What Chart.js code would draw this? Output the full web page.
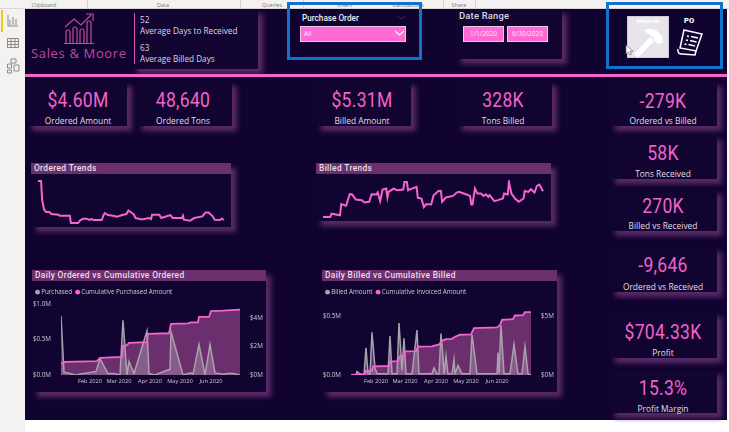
<!DOCTYPE html>
<html><head><meta charset="utf-8">
<script src="https://cdn.jsdelivr.net/npm/chart.js@4"></script>
<style>
html,body{margin:0;padding:0;width:729px;height:432px;overflow:hidden;background:#fff;font-family:"Open Sans",sans-serif}
body{filter:blur(.35px)}
div,canvas,svg{position:absolute;box-sizing:border-box}
#dash{left:25px;top:9px;width:702px;height:411px;background:#100330}
.ribbon{left:0;top:0;width:729px;height:9px;background:#f3f2f1;border-bottom:1px solid #d8d6d4}
.rl{top:1px;font-size:5.5px;color:#777;transform:translateX(-50%);white-space:nowrap}
.sep{top:0;height:8px;width:1px;background:#d5d3d1}
.side{left:0;top:9px;width:25px;height:423px;background:#f3f2f1}
.panel{background:#110431;box-shadow:5px 5px 5px #5a2a68}
.val{color:#f263c9;font-family:Roboto,sans-serif;font-size:19.5px;letter-spacing:.3px;text-align:center;white-space:nowrap;transform:translateX(-50%) scaleX(.9);line-height:20px}
.lab{color:#e4dde6;font-size:8.4px;margin-top:1px;text-align:center;white-space:nowrap;transform:translateX(-50%);line-height:11px}
.ttl{background:#6a2f6c;color:#e9dfe9;font-family:Roboto,sans-serif;font-weight:500;font-size:8.4px;letter-spacing:.35px;padding-left:3px;line-height:11px;white-space:nowrap}
.txt{color:#ddd6e0;white-space:nowrap}
.pinkbox{background:#ff6ad5;border:1px solid #e9c7e4;color:#fbe9f7;font-size:6.5px;line-height:14px;text-align:center;white-space:nowrap}
.blue{border:3px solid #1272cc}
</style></head><body>
<div id="dash"></div>
<div class="ribbon"></div>
<div class="rl" style="left:44px">Clipboard</div><div class="rl" style="left:163px">Data</div><div class="rl" style="left:272px">Queries</div><div class="rl" style="left:345px">Insert</div><div class="rl" style="left:408px">Calculations</div><div class="rl" style="left:459px">Share</div>
<div class="sep" style="left:87px"></div><div class="sep" style="left:240px"></div><div class="sep" style="left:303px"></div><div class="sep" style="left:443px"></div><div class="sep" style="left:475px"></div>
<div class="side"></div>
<div style="left:1px;top:10px;width:2px;height:22px;background:#f2c811"></div>
<svg style="left:6px;top:13px" width="14" height="62" viewBox="0 0 14 62" fill="none" stroke="#8d8a88" stroke-width="1">
<path d="M2 2v11h10M4 12V7M7 12V4M10 12V6"/><path d="M1.500 25.500h11v9h-11zM1.500 28.500h11M1.500 31.500h11M5 25.500v9M9 25.500v9"/><path d="M5 46h5v4H5zM1.500 51h4v4h-4zM1.500 57h4v3h-4zM8 52h5v6H8z"/></svg>

<!-- logo -->
<svg style="left:62px;top:12px" width="36" height="33" viewBox="0 0 36 33" fill="none" stroke="#c04aa4" stroke-width="1.200">
<path d="M4 31V20a2 2 0 0 1 4 0v11M11 31V17a2 2 0 0 1 4 0v14M18 31V19a2 2 0 0 1 4 0v12M25 31V11a2 2 0 0 1 4 0v20M2 31.500h30"/>
<path d="M3 15l9-8 7 6 10-10M24 2h7v7"/></svg>
<div style="left:31px;top:45px;color:#bd4aa3;font-family:'Open Sans';font-size:13px;letter-spacing:.65px;white-space:nowrap;line-height:16px">Sales &amp; Moore</div>

<!-- info -->
<div class="panel" style="left:132px;top:9px;width:126px;height:60px"></div>
<div style="left:134px;top:13px;width:1px;height:51px;background:#d653b4"></div>
<div class="txt" style="left:140px;top:15px;font-size:8.200px;line-height:10px">52</div>
<div class="txt" style="left:140px;top:26px;font-size:8.200px;line-height:10px">Average Days to Received</div>
<div class="txt" style="left:140px;top:43px;font-size:8.200px;line-height:10px">63</div>
<div class="txt" style="left:140px;top:54px;font-size:8.200px;line-height:10px">Average Billed Days</div>

<div style="left:25px;top:74px;width:702px;height:3px;background:#f563cb"></div>

<!-- slicer -->
<div class="txt" style="left:302px;top:13px;font-family:Roboto;font-weight:500;font-size:8.200px;line-height:10px;color:#eee">Purchase Order</div>
<svg style="left:396px;top:15px" width="10" height="5" fill="none" stroke="#3a2a55"><path d="M1 1l4 3 4-3"/></svg>
<div class="pinkbox" style="left:300px;top:26px;width:106px;height:16px;text-align:left;padding-left:3px">All</div>
<svg style="left:394px;top:30px" width="11" height="7" fill="none" stroke="#fff" stroke-width="1.100"><path d="M1 1l4.500 4 4.500-4"/></svg>
<div class="blue" style="left:287px;top:2px;width:135px;height:58px"></div>

<!-- date -->
<div class="panel" style="left:456px;top:9px;width:106px;height:50px"></div>
<div class="txt" style="left:459px;top:10px;font-family:Roboto;font-weight:500;font-size:9.400px;line-height:12px;letter-spacing:.2px">Date Range</div>
<div class="pinkbox" style="left:463px;top:26px;width:41px;height:16px">1/1/2020</div>
<div class="pinkbox" style="left:507px;top:26px;width:41px;height:16px">6/30/2020</div>

<!-- buttons -->
<div style="left:627px;top:16px;width:42px;height:42px;background:#e7e4ea;border:1px solid #cfcbd6"></div>
<div style="left:627px;top:17px;width:42px;text-align:center;color:#fff;font-family:Roboto;font-weight:700;font-size:6px;line-height:8px">Material</div>
<svg style="left:627px;top:16px" width="42" height="42" fill="#fff"><path d="M7 38l16-17 4 4-16 17z"/><path d="M17 14q8-3 13 1l5 5 1 6-4 2-4-2-2-5-6-4z"/></svg>
<div style="left:684px;top:16px;color:#fff;font-family:Roboto;font-weight:900;font-size:7.500px;line-height:10px">PO</div>
<svg style="left:676px;top:28px" width="28" height="28" fill="none" stroke="#fff" stroke-width="1.500"><path d="M8 2l18 4-6 17-16-3z"/><path d="M2 21q-1 5 4 5l13 1 1-4"/><path d="M11 8l2 .5M15 8.500l7 1.500M10 12l2 .5M14 12.500l6.500 1.500M8.500 16l2 .5M12.500 16.500l6.500 1.500"/></svg>
<div class="blue" style="left:606px;top:2px;width:117px;height:67px"></div>
<svg style="left:625px;top:44px" width="9" height="12"><path d="M1 1v9l2.500-2 1.500 3 1.500-.7-1.400-3H8z" fill="#fff" stroke="#555" stroke-width=".6"/></svg>

<!-- KPI cards -->
<div class="panel" style="left:27px;top:81px;width:100px;height:45px"></div>
<div class="val" style="left:78px;top:91px">$4.60M</div><div class="lab" style="left:78px;top:114px">Ordered Amount</div>
<div class="panel" style="left:137px;top:81px;width:95px;height:45px"></div>
<div class="val" style="left:183px;top:91px">48,640</div><div class="lab" style="left:183px;top:114px">Ordered Tons</div>
<div class="panel" style="left:316px;top:81px;width:95px;height:45px"></div>
<div class="val" style="left:362px;top:91px">$5.31M</div><div class="lab" style="left:362px;top:114px">Billed Amount</div>
<div class="panel" style="left:457px;top:81px;width:95px;height:45px"></div>
<div class="val" style="left:503px;top:91px">328K</div><div class="lab" style="left:503px;top:114px">Tons Billed</div>
<div class="panel" style="left:610px;top:81px;width:107px;height:45px"></div>
<div class="val" style="left:663px;top:92px">-279K</div><div class="lab" style="left:663px;top:114px">Ordered vs Billed</div>
<div class="panel" style="left:610px;top:135px;width:107px;height:44px"></div>
<div class="val" style="left:663px;top:144px">58K</div><div class="lab" style="left:663px;top:167px">Tons Received</div>
<div class="panel" style="left:610px;top:189px;width:107px;height:42px"></div>
<div class="val" style="left:663px;top:197px">270K</div><div class="lab" style="left:663px;top:219px">Billed vs Received</div>
<div class="panel" style="left:610px;top:247px;width:107px;height:45px"></div>
<div class="val" style="left:663px;top:256px">-9,646</div><div class="lab" style="left:663px;top:280px">Ordered vs Received</div>
<div class="panel" style="left:610px;top:312px;width:107px;height:46px"></div>
<div class="val" style="left:663px;top:323px">$704.33K</div><div class="lab" style="left:663px;top:346px">Profit</div>
<div class="panel" style="left:610px;top:370px;width:107px;height:43px"></div>
<div class="val" style="left:663px;top:379px">15.3%</div><div class="lab" style="left:663px;top:402px">Profit Margin</div>

<!-- chart panels -->
<div class="panel" style="left:31px;top:163px;width:200px;height:64px"></div>
<div class="ttl" style="left:31px;top:163px;width:200px;height:11px">Ordered Trends</div>
<div class="panel" style="left:316px;top:163px;width:235px;height:58px"></div>
<div class="ttl" style="left:316px;top:163px;width:235px;height:11px">Billed Trends</div>
<div class="panel" style="left:32px;top:270px;width:234px;height:122px"></div>
<div class="ttl" style="left:32px;top:270px;width:234px;height:11px">Daily Ordered vs Cumulative Ordered</div>
<div class="panel" style="left:322px;top:270px;width:235px;height:122px"></div>
<div class="ttl" style="left:322px;top:270px;width:235px;height:11px">Daily Billed vs Cumulative Billed</div>

<canvas id="c1" width="190" height="46" style="left:36px;top:179px"></canvas>
<canvas id="c2" width="224" height="39" style="left:321px;top:180px"></canvas>
<canvas id="c3" width="234" height="108" style="left:32px;top:284px"></canvas>
<canvas id="c4" width="235" height="108" style="left:322px;top:284px"></canvas>

<script>
// Ordered Trends (day of period, relative amount)
const orderedTrendDays=[0,3,4,6,8,11,13,20,21,31,32,39,41,44,47,50,52,54,62,64,65,68,73,77,82,86,88,91,93,95,101,108,110,111,118,120,126,129,131,140,141,142,148,152,160,163,166,170,172,177,179,181];
const orderedTrendValues=[127,127,70,40,33,33,27,25,22,22,0,0,8,13,13,9,12,9,9,25,30,24,22,19,24,27,38,31,27,15,11,15,12,25,25,15,21,24,15,15,22,10,7,15,20,32,32,20,10,9,13,9];
// Billed Trends
const billedTrendDays=[0,6,7,14,15,19,22,24,27,32,34,38,40,44,45,47,49,52,53,54,58,61,66,67,69,70,73,77,78,81,83,85,89,91,95,97,98,101,107,110,112,118,121,122,123,125,127,130,132,134,136,137,141,144,148,149,152,153,155,158,161,165,166,169,171,174,176,178,181];
const billedTrendValues=[0,0,10,5,39,34,69,68,53,51,44,46,69,68,74,48,83,86,59,76,86,81,83,106,106,81,86,91,58,56,30,39,38,66,79,79,46,59,64,74,76,68,64,38,38,86,71,71,64,69,61,66,48,51,56,71,68,106,71,56,46,56,79,76,84,74,94,98,78];
// Daily Ordered vs Cumulative Ordered ($M)
const purchasedDays=[2,5,11,16,37,41,49,55,61,64,68,70,75,88,90,96,101,111,112,124,132,134,140,146,151,156,164,169,174,181];
const purchasedValues=[.83,.04,.02,0,.05,.23,.02,.02,0,.77,0,.19,.02,.62,.02,0,.03,.08,.61,0,.03,.01,.43,0,.43,.03,.01,.02,.02,0];
const cumPurchasedDays=[2,6,38,41,63,64,68,70,88,89,110,112,129,132,139,140,150,152,164,181];
const cumPurchasedValues=[.84,.93,.98,1.21,1.28,2.05,2.1,2.27,2.31,2.9,2.94,3.6,3.64,3.71,3.71,4.09,4.09,4.5,4.53,4.6];
// Daily Billed vs Cumulative Billed ($M)
const billedDays=[1,6,7,10,14,16,18,20,22,25,27,38,40,42,47,49,52,54,56,62,67,69,82,84,87,89,91,93,94,96,98,102,104,105,108,112,120,122,124,127,147,148,149,151,154,160,164,168,172,175,178,181];
const billedValues=[0,0,.03,.01,0,.23,.01,.01,.36,.06,.01,.01,.33,.01,.01,.44,.04,.31,.01,.01,.38,.01,.01,.06,.01,.01,.35,.15,.01,.16,.01,.01,.13,.01,.08,.01,.01,.34,.21,.01,.01,.19,.01,.42,.01,.01,.26,.01,.01,.24,.01,0];
const cumBilledDays=[1,14,16,22,23,39,40,48,50,54,55,66,68,82,89,92,96,102,105,110,121,124,147,150,152,163,165,173,175,181];
const cumBilledValues=[0,.06,.34,.37,.73,.76,1.15,1.18,1.6,1.63,2.0,2.02,2.39,2.42,2.58,2.89,3.03,3.06,3.23,3.4,3.43,3.96,4.02,4.21,4.66,4.72,5.03,5.06,5.31,5.31];
// Axis ticks
const monthTickDays=[31,60,91,121,152];
const monthTickLabels=['Feb 2020','Mar 2020','Apr 2020','May 2020','Jun 2020'];

const PINK='#f564cf',GREY='#a8a2ac',PURPLE='#6a2f6c',TICK='#cfc8d2';
const xy=(d,v)=>d.map((x,i)=>({x,y:v[i]}));
Chart.defaults.animation=false;
Chart.defaults.devicePixelRatio=1;
Chart.defaults.font.family='"Open Sans",sans-serif';

function spark(id,days,vals,top){
  new Chart(document.getElementById(id),{type:'line',
    data:{datasets:[{data:xy(days,vals),borderColor:PINK,borderWidth:2,pointRadius:0,tension:0,clip:false}]},
    options:{responsive:false,layout:{padding:{left:2,right:2,top:2,bottom:2}},
      plugins:{legend:{display:false},tooltip:{enabled:false}},
      scales:{x:{type:'linear',display:false,min:0,max:181},y:{display:false,min:0,max:top}}}});
}
spark('c1',orderedTrendDays,orderedTrendValues,127);
spark('c2',billedTrendDays,billedTrendValues,106);

// Keep the legend band a fixed height so the plot top lines up with the reference.
const legendBand={id:'legendBand',beforeInit(chart){const f=chart.legend.fit;chart.legend.fit=function(){f.call(this);this.height=20;}}};

function combo(id,o){
  const tickFont={size:6.3};
  new Chart(document.getElementById(id),{type:'line',plugins:[legendBand],
    data:{datasets:[
      {label:o.l1,data:xy(o.d1,o.v1),yAxisID:'y',borderColor:GREY,backgroundColor:'rgba(200,192,205,.32)',fill:'origin',borderWidth:1.5,pointRadius:0,order:2},
      {label:o.l2,data:xy(o.d2,o.v2),yAxisID:'y1',borderColor:PINK,backgroundColor:PINK,borderWidth:1.8,pointRadius:0,order:1},
      {label:'',data:xy(o.d2,o.v2),yAxisID:'y1',borderWidth:0,backgroundColor:PURPLE,fill:'origin',pointRadius:0,order:3}
    ]},
    options:{responsive:false,layout:{padding:0},
      plugins:{tooltip:{enabled:false},legend:{position:'top',align:'start',
        labels:{usePointStyle:true,pointStyle:'circle',boxWidth:1,boxHeight:3.5,padding:5,color:'#cfc8d2',font:{size:6.3},
          filter:i=>i.text!=='',sort:(a,b)=>a.datasetIndex-b.datasetIndex,
          generateLabels:c=>Chart.defaults.plugins.legend.labels.generateLabels(c).map(i=>({...i,fillStyle:i.strokeStyle,lineWidth:0,fontColor:'#cfc8d2'}))}}},
      scales:{
        x:{type:'linear',min:o.xMin,max:181,grid:{display:false,drawTicks:false},border:{display:false},
          afterBuildTicks:s=>{s.ticks=monthTickDays.map(value=>({value}))},
          ticks:{autoSkip:false,maxRotation:0,padding:3,labelOffset:o.labelOffset,color:TICK,font:{size:5.7},callback:v=>monthTickLabels[monthTickDays.indexOf(v)]},
          afterFit:s=>{s.height=17}},
        y:{position:'left',min:0,max:o.leftMax,grid:{display:false,drawTicks:false},border:{display:false},
          afterBuildTicks:s=>{s.ticks=s.ticks.filter(t=>o.leftTicks.includes(t.value))},
          ticks:{stepSize:.5,padding:10,color:TICK,font:tickFont,callback:v=>'$'+v.toFixed(1)+'M'},
          afterFit:s=>{s.width=o.lw}},
        y1:{position:'right',min:0,max:o.rightMax,grid:{display:false,drawTicks:false},border:{display:false},
          afterBuildTicks:s=>{s.ticks=s.ticks.filter(t=>o.rightTicks.includes(t.value))},
          ticks:{stepSize:o.rightStep,padding:10,color:TICK,font:tickFont,callback:v=>'$'+v+'M'},
          afterFit:s=>{s.width=o.rw}}
      }}});
}
combo('c3',{l1:'Purchased',l2:'Cumulative Purchased Amount',d1:purchasedDays,v1:purchasedValues,d2:cumPurchasedDays,v2:cumPurchasedValues,
  xMin:2,leftMax:1,leftTicks:[0,.5,1],rightMax:5,rightTicks:[0,2,4],rightStep:2,lw:29,rw:26,labelOffset:0});
combo('c4',{l1:'Billed Amount',l2:'Cumulative Invoiced Amount',d1:billedDays,v1:billedValues,d2:cumBilledDays,v2:cumBilledValues,
  xMin:1,leftMax:.6,leftTicks:[0,.5],rightMax:6,rightTicks:[0,5],rightStep:5,lw:29,rw:26,labelOffset:-5});
</script>
</body></html>
